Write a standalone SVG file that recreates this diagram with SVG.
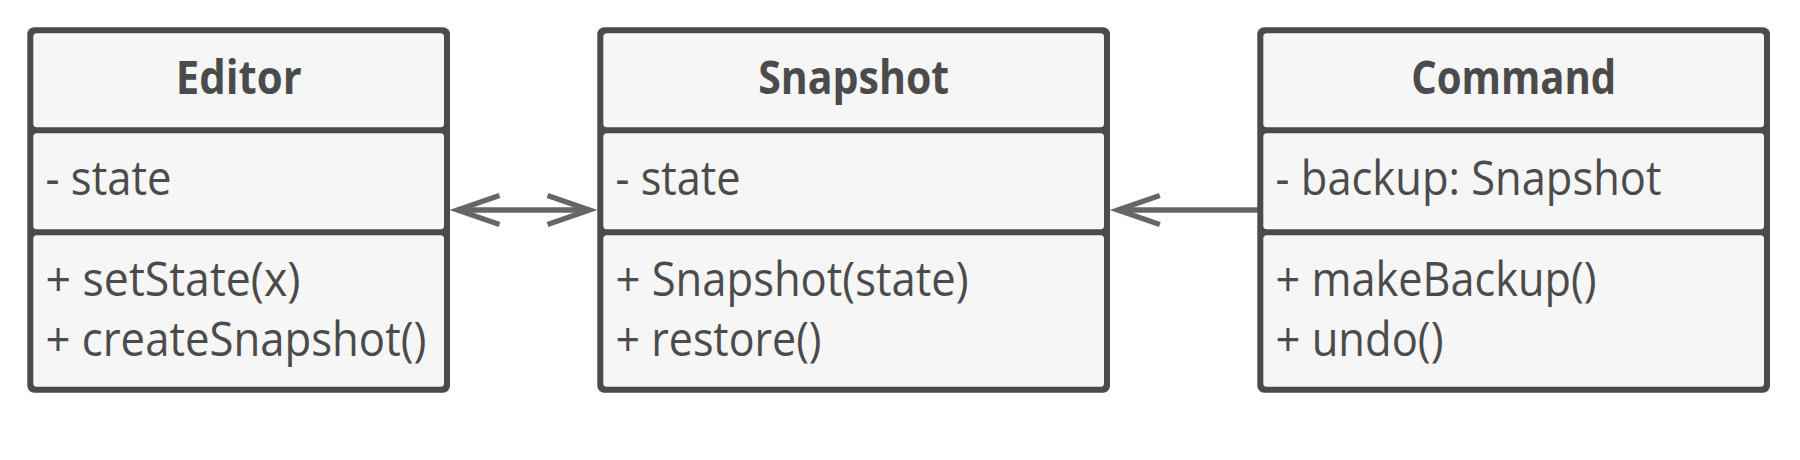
<svg xmlns="http://www.w3.org/2000/svg" width="1800" height="460" viewBox="0 0 1800 460">
  <style>
    .frame { fill: #4b4b4b; }
    .comp { fill: #f6f6f6; }
    .title { font-family: "Open Sans", "Noto Sans", "Liberation Sans", sans-serif; font-weight: 700; font-size: 46px; fill: #4b4b4b; text-anchor: middle; }
    .item { font-family: "Open Sans", "Noto Sans", "Liberation Sans", sans-serif; font-weight: 400; font-size: 47px; fill: #4b4b4b; }
    .conn { fill: none; stroke: #666666; stroke-width: 5.3; }
  </style>
  <defs>
    <marker id="open" markerUnits="userSpaceOnUse" orient="auto-start-reverse" viewBox="-50 -20 60 40" markerWidth="60" markerHeight="40" refX="0" refY="0" overflow="visible">
      <path d="M-42,-14.5 L0,0 L-42,14.5" fill="none" stroke="#666666" stroke-width="5.3" stroke-linejoin="miter"/>
    </marker>
  </defs>

  <rect width="1800" height="460" fill="#ffffff"/>

  <g id="connectors">
    <path class="conn" d="M457.5,210 L589.5,210" marker-start="url(#open)" marker-end="url(#open)"/>
    <path class="conn" d="M1260,210 L1117.8,210" marker-end="url(#open)"/>
  </g>

  <g id="editor">
    <rect class="frame" x="27.3" y="27.3" width="422.7" height="365.4" rx="7"/>
    <rect class="comp" x="33.3" y="33.3" width="410.7" height="94" rx="3.5"/>
    <rect class="comp" x="33.3" y="133.3" width="410.7" height="96" rx="3.5"/>
    <rect class="comp" x="33.3" y="235.3" width="410.7" height="151.4" rx="3.5"/>
    <text class="title" x="238.7" y="93.5" textLength="126" lengthAdjust="spacingAndGlyphs">Editor</text>
    <text class="item" x="45.5" y="195" textLength="126" lengthAdjust="spacingAndGlyphs">- state</text>
    <text class="item" x="45.5" y="296" textLength="255" lengthAdjust="spacingAndGlyphs">+ setState(x)</text>
    <text class="item" x="45.5" y="356" textLength="381" lengthAdjust="spacingAndGlyphs">+ createSnapshot()</text>
  </g>

  <g id="snapshot">
    <rect class="frame" x="597.3" y="27.3" width="512.7" height="365.4" rx="7"/>
    <rect class="comp" x="603.3" y="33.3" width="500.7" height="94" rx="3.5"/>
    <rect class="comp" x="603.3" y="133.3" width="500.7" height="96" rx="3.5"/>
    <rect class="comp" x="603.3" y="235.3" width="500.7" height="151.4" rx="3.5"/>
    <text class="title" x="853.7" y="93.5" textLength="191" lengthAdjust="spacingAndGlyphs">Snapshot</text>
    <text class="item" x="615.5" y="195" textLength="125" lengthAdjust="spacingAndGlyphs">- state</text>
    <text class="item" x="615.5" y="296" textLength="353" lengthAdjust="spacingAndGlyphs">+ Snapshot(state)</text>
    <text class="item" x="615.5" y="356" textLength="206" lengthAdjust="spacingAndGlyphs">+ restore()</text>
  </g>

  <g id="command">
    <rect class="frame" x="1257.3" y="27.3" width="512.7" height="365.4" rx="7"/>
    <rect class="comp" x="1263.3" y="33.3" width="500.7" height="94" rx="3.5"/>
    <rect class="comp" x="1263.3" y="133.3" width="500.7" height="96" rx="3.5"/>
    <rect class="comp" x="1263.3" y="235.3" width="500.7" height="151.4" rx="3.5"/>
    <text class="title" x="1513.7" y="93.5" textLength="205" lengthAdjust="spacingAndGlyphs">Command</text>
    <text class="item" x="1275.5" y="195" textLength="386" lengthAdjust="spacingAndGlyphs">- backup: Snapshot</text>
    <text class="item" x="1275.5" y="296" textLength="321" lengthAdjust="spacingAndGlyphs">+ makeBackup()</text>
    <text class="item" x="1275.5" y="356" textLength="168" lengthAdjust="spacingAndGlyphs">+ undo()</text>
  </g>
</svg>
